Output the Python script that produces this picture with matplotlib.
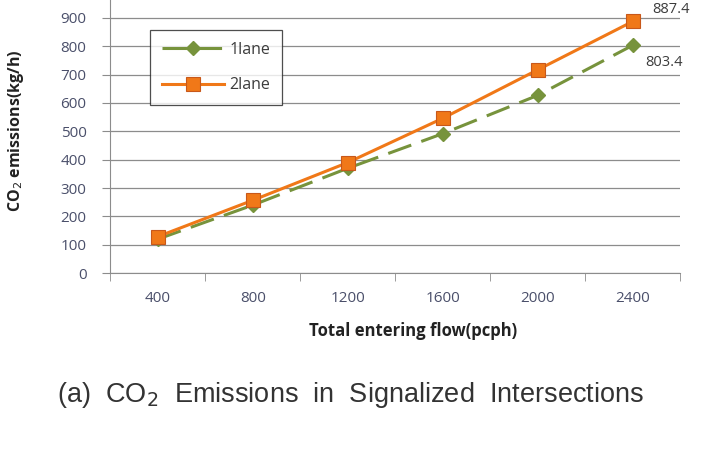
import numpy as np
import matplotlib.pyplot as plt

flows = ["400", "800", "1200", "1600", "2000", "2400"]
lane1 = [120, 240, 370, 492, 627, 803.4]
lane2 = [129, 257, 390, 546, 717, 887.4]
yticks = [0, 100, 200, 300, 400, 500, 600, 700, 800, 900]

green = "#77933C"
orange = "#F07818"
grid_c = "#8C8C8C"
tick_c = "#4A4F6A"

plt.rcParams["font.family"] = ["Open Sans", "DejaVu Sans"]

fig = plt.figure(figsize=(7.02, 4.76), dpi=100)
ax = fig.add_axes([0.157, 0.426, 0.812, 0.574])

x = np.arange(len(flows))
ax.plot(x, lane1, color=green, lw=2.2, dashes=(8, 3.5), marker="D",
        ms=7, mfc=green, mec=green, label="1lane", zorder=3)
ax.plot(x, lane2, color=orange, lw=2.2, marker="s", ms=10,
        mfc=orange, mec="#C8581A", mew=0.8, label="2lane", zorder=4)

ax.annotate(f"{lane2[-1]}", (x[-1], lane2[-1]), xytext=(14, 6),
            textcoords="offset points", fontsize=10.5, color="#3C3C3C")
ax.annotate(f"{lane1[-1]}", (x[-1], lane1[-1]), xytext=(9, -15),
            textcoords="offset points", fontsize=10.5, color="#3C3C3C")

ax.set_xlim(-0.5, len(flows) - 0.5)
ax.set_ylim(0, 963)
ax.set_yticks(yticks)
ax.set_xticks(x)
ax.set_xticklabels(flows)
ax.set_xticks(np.arange(len(flows) + 1) - 0.5, minor=True)
ax.tick_params(axis="x", which="major", length=0, pad=13, labelsize=11,
               colors=tick_c)
ax.tick_params(axis="x", which="minor", length=6, color=grid_c)
ax.tick_params(axis="y", length=6, color=grid_c, labelsize=11,
               colors=tick_c, pad=11)
ax.grid(axis="y", color=grid_c, lw=0.9)
ax.set_axisbelow(True)
for side in ["top", "right"]:
    ax.spines[side].set_visible(False)
for side in ["left", "bottom"]:
    ax.spines[side].set_color(grid_c)

ax.set_ylabel("CO$_2$ emissions(kg/h)", fontsize=11.5, fontweight="bold",
              color="#222222")
ax.yaxis.set_label_coords(-0.148, 0.52)
ax.set_xlabel("Total entering flow(pcph)", fontsize=12, fontweight="bold",
              color="#222222")
ax.xaxis.set_label_coords(0.532, -0.18)

leg = ax.legend(loc="upper left", bbox_to_anchor=(0.07, 0.89), fontsize=11.5,
                frameon=True, fancybox=False, edgecolor="#222222",
                handlelength=3.9, handletextpad=0.3, borderpad=0.75,
                labelspacing=1.2, borderaxespad=0)
leg.get_frame().set_linewidth(0.9)
for t in leg.get_texts():
    t.set_color("#3C3C3C")

fig.text(0.5, 0.17, "(a)  CO$_2$  Emissions  in  Signalized  Intersections",
         ha="center", va="center", fontsize=19.5, color="#333333",
         family=["Liberation Sans", "DejaVu Sans"])

fig.savefig("out.png", dpi=100)
